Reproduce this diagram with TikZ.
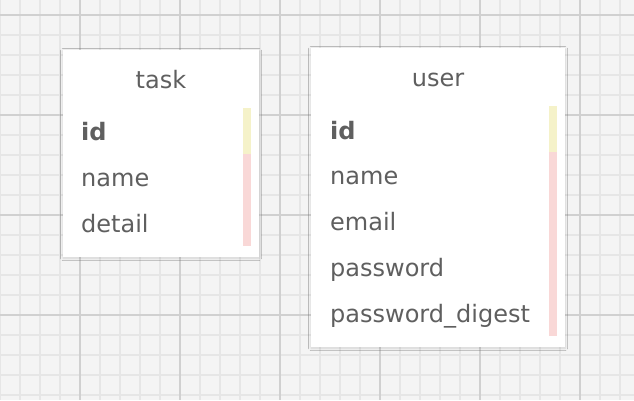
\documentclass[tikz,border=0pt]{standalone}
\usepackage{fontspec}
\setmainfont{DejaVu Sans}
\usepackage{tikz}
\usetikzlibrary{positioning}
\usetikzlibrary{shadows,shadows.blur}
\definecolor{paper}{HTML}{F4F4F4}
\definecolor{minorgrid}{HTML}{E6E6E6}
\definecolor{majorgrid}{HTML}{D0D0D0}
\definecolor{txtgray}{HTML}{5F5F5F}
\definecolor{keybar}{HTML}{F5F2C9}
\definecolor{colbar}{HTML}{F9D8D7}
\tikzstyle{minorline}=[draw=minorgrid,line width=1.2pt]
\tikzstyle{majorline}=[draw=majorgrid,line width=1.4pt]
\tikzstyle{table}=[rectangle,fill=white,draw=none,inner sep=0pt,blur shadow={shadow xshift=0pt,shadow yshift=-1pt,shadow blur radius=2.5pt,shadow blur steps=8,shadow opacity=14}]
\tikzstyle{title}=[anchor=base,font=\fontsize{24}{28}\selectfont,text=txtgray]
\tikzstyle{field}=[anchor=base west,font=\fontsize{24}{28}\selectfont,text=txtgray,inner sep=0pt]
\tikzstyle{keyfield}=[field,font=\fontsize{24}{28}\selectfont\bfseries]

\begin{document}
\begin{tikzpicture}[x=1pt,y=-1pt]
    \useasboundingbox (0,0) rectangle (634,400);
    % First we draw the grid paper
    \fill[paper] (0,0) rectangle (634,400);
    \foreach \x in {0,20,...,620}
        \draw[minorline] (\x,0) -- (\x,400);
    \foreach \y in {-5,15,...,395}
        \draw[minorline] (0,\y) -- (634,\y);
    \foreach \x in {80,180,...,580}
        \draw[majorline] (\x,0) -- (\x,400);
    \foreach \y in {15,115,215,315}
        \draw[majorline] (0,\y) -- (634,\y);

    % Then the two tables
    \node[table,minimum width=196pt,minimum height=207pt] (task) at (161,153.5) {};
    \node[table,minimum width=254pt,minimum height=299pt] (user) at (438,197.5) {};

    \node[title] (tasktitle) at (161,88) {task};
    \node[title] (usertitle) at (438,86) {user};

    % Key and column bars
    \fill[keybar] (243,108) rectangle (251,154);
    \fill[colbar] (243,154) rectangle (251,246);
    \fill[keybar] (549,106) rectangle (557,152);
    \fill[colbar] (549,152) rectangle (557,336);

    % Fields
    \node[keyfield] (taskid) at (81,140) {id};
    \foreach \pos/\name/\label in {{(81,186)/taskname/name}, {(81,232)/taskdetail/detail}}
        \node[field] (\name) at \pos {\label};

    \node[keyfield] (userid) at (330,139) {id};
    \foreach \pos/\name/\label in {{(330,184)/username/name}, {(330,230)/useremail/email},
        {(330,276)/userpassword/password}, {(330,322)/userdigest/password\_digest}}
        \node[field] (\name) at \pos {\label};
\end{tikzpicture}
\end{document}
